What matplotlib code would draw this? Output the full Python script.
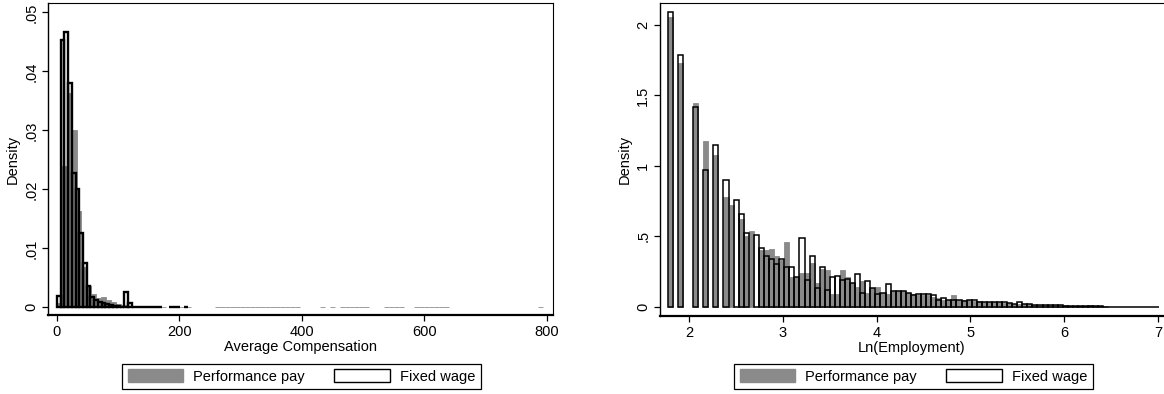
import matplotlib.pyplot as plt
import numpy as np
from matplotlib.patches import Patch

plt.rcParams["font.family"] = ["Liberation Sans", "DejaVu Sans"]
plt.rcParams["font.size"] = 10.5

GRAY = "#8a8a8a"
T = 3e-5  # trace density: bin drawn as a line on the baseline

# --- left panel: average compensation (density per bin) ---
comp_fixed_start, comp_fixed_width = 0.5, 6.1
comp_fixed = [0.0019, 0.0454, 0.0466, 0.0380, 0.0227, 0.0200, 0.0126, 0.0075,
              0.0036, 0.0018, 0.0012, 0.0009, 0.0007, 0.0005, 0.0004, 0.0003,
              0.0002, 0.0001, 0.0026, 0.0007, T, T, T, T, T, T, T, T, 0, 0,
              T, T, T, 0, T]

comp_perf_start, comp_perf_width = 0.2, 8.1
comp_perf = [0.0008, 0.0240, 0.0364, 0.0301, 0.0164, 0.0068, 0.0036, 0.0022,
             0.0016, 0.0017, 0.0013, 0.0009, 0.0005, 0.0004, 0.0003, 0.0002,
             0.0001, 0.0001, 0.0001, 0.0001, 0.0001, 0.0001, 0, T, T, T, T,
             0, 0, 0, 0, 0, T, T, T, T, T, T, T, T, T, T, T, T, T, T, T, T, T,
             0, 0, 0, 0, T, 0, T, 0, T, T, T, T, T, T, 0, 0, 0, T, T, T, T,
             0, 0, T, T, T, T, T, T, T, 0, 0, 0, 0, 0, 0, 0, 0, 0, 0, 0, 0,
             0, 0, 0, 0, 0, 0, T]

comp_xticks = [0, 200, 400, 600, 800]
comp_yticks = [0, 0.01, 0.02, 0.03, 0.04, 0.05]
comp_ylabels = ["0", ".01", ".02", ".03", ".04", ".05"]

# --- right panel: ln(employment) ---
emp_start, emp_width = 1.773, 0.054
emp_fixed = [2.09, 0, 1.79, 0, 0, 1.42, 0, 0.97, 0, 1.15, 0, 0.90, 0, 0.76,
             0.66, 0.52, 0, 0.51, 0.42, 0.36, 0.34, 0.30, 0.34, 0.28, 0.28,
             0.21, 0.49, 0.19, 0.36, 0.13, 0.28, 0.12, 0.21, 0.22, 0.19, 0.20,
             0.17, 0.23, 0.10, 0.18, 0.13, 0.09, 0.10, 0.16, 0.11, 0.11, 0.11,
             0.10, 0.08, 0.09, 0.09, 0.09, 0.08, 0.05, 0.06, 0.05, 0.05, 0.05,
             0.04, 0.05, 0.05, 0.035, 0.03, 0.035, 0.035, 0.03, 0.03, 0.025,
             0.02, 0.03, 0.02, 0.017, 0.012, 0.012, 0.011, 0.010, 0.010, 0.009,
             0.008, 0.005, 0.005, 0.004, 0.004, 0.003, 0.003, 0.002, 0.001,
             0.001, 0.001, 0.001, 0.001, 0.001, 0.001, 0.001, 0.001, 0.001,
             0.001]
emp_perf = [2.06, 0, 1.73, 0, 0, 1.45, 0, 1.18, 0, 1.08, 0, 0.78, 0.72, 0,
            0.62, 0.50, 0.54, 0, 0.40, 0.40, 0.41, 0.36, 0.33, 0.46, 0.21,
            0.21, 0.24, 0.24, 0.31, 0.17, 0.27, 0.26, 0.09, 0.09, 0.26, 0.21,
            0.17, 0.14, 0.18, 0.10, 0.13, 0.14, 0.10, 0.09, 0.11, 0.11, 0.11,
            0.10, 0.09, 0.08, 0.08, 0.08, 0.07, 0.06, 0.05, 0.05, 0.08, 0.05,
            0.05, 0.05, 0.04, 0.04, 0.035, 0.03, 0.03, 0.03, 0.025, 0.025,
            0.02, 0.02, 0.02, 0.017, 0.014, 0.013, 0.012, 0.012, 0.011, 0.010,
            0.010, 0.008, 0.008, 0.008, 0.007, 0.010, 0.004, 0.003, 0.002]

emp_xticks = [2, 3, 4, 5, 6, 7]
emp_yticks = [0, 0.5, 1, 1.5, 2]
emp_ylabels = ["0", ".5", "1", "1.5", "2"]

legend_labels = ["Performance pay", "Fixed wage"]


def draw_hist(ax, start, width, heights, **style):
    h = np.asarray(heights, dtype=float)
    edges = start + width * np.arange(len(h))
    keep = h > 0
    ax.bar(edges[keep], h[keep], width=width, align="edge", **style)


def style_axis(ax, xticks, yticks, ylabels, xlabel):
    ax.set_xticks(xticks)
    ax.set_yticks(yticks, ylabels)
    for lab in ax.get_yticklabels():
        lab.set_rotation(90)
        lab.set_va("center")
    ax.tick_params(direction="out", length=4, width=0.9, colors="black",
                   labelsize=10.5)
    ax.tick_params(axis="x", pad=3)
    ax.tick_params(axis="y", pad=3)
    ax.set_xlabel(xlabel, labelpad=1)
    ax.set_ylabel("Density", labelpad=3)
    for side, lw in [("bottom", 1.6), ("left", 1.0), ("top", 0.8), ("right", 0.8)]:
        ax.spines[side].set_linewidth(lw)
        ax.spines[side].set_color("black")


def add_legend(fig, xcenter):
    handles = [Patch(facecolor=GRAY, edgecolor=GRAY),
               Patch(facecolor="white", edgecolor="black", linewidth=1)]
    leg = fig.legend(handles, legend_labels, loc="center",
                     bbox_to_anchor=(xcenter, 0.0444), ncol=2, fancybox=False,
                     edgecolor="black", framealpha=1, handlelength=3.8,
                     handleheight=0.9, handletextpad=0.7, columnspacing=2.0,
                     borderpad=0.4, fontsize=10.5)
    leg.get_frame().set_linewidth(0.9)


fig = plt.figure(figsize=(11.64, 3.94), dpi=100)

ax1 = fig.add_axes([0.0412, 0.2005, 0.4338, 0.7919])
draw_hist(ax1, comp_perf_start, comp_perf_width, comp_perf,
          color=GRAY, edgecolor=GRAY, linewidth=0.6, zorder=2)
draw_hist(ax1, comp_fixed_start, comp_fixed_width, comp_fixed,
          fill=False, edgecolor="black", linewidth=1.7, zorder=3)
ax1.set_xlim(-14, 810)
ax1.set_ylim(-0.0013, 0.0516)
style_axis(ax1, comp_xticks, comp_yticks, comp_ylabels, "Average Compensation")

ax2 = fig.add_axes([0.567, 0.198, 0.433, 0.7944])
draw_hist(ax2, emp_start, emp_width, emp_perf,
          color=GRAY, edgecolor=GRAY, linewidth=0.6, zorder=2)
draw_hist(ax2, emp_start, emp_width, emp_fixed,
          fill=False, edgecolor="black", linewidth=1.1, zorder=3)
ax2.set_xlim(1.69, 7.064)
ax2.set_ylim(-0.066, 2.157)
style_axis(ax2, emp_xticks, emp_yticks, emp_ylabels, "Ln(Employment)")
ax2.spines["right"].set_visible(False)

add_legend(fig, 0.259)
add_legend(fig, 0.7848)

fig.savefig("out.png", dpi=100)
